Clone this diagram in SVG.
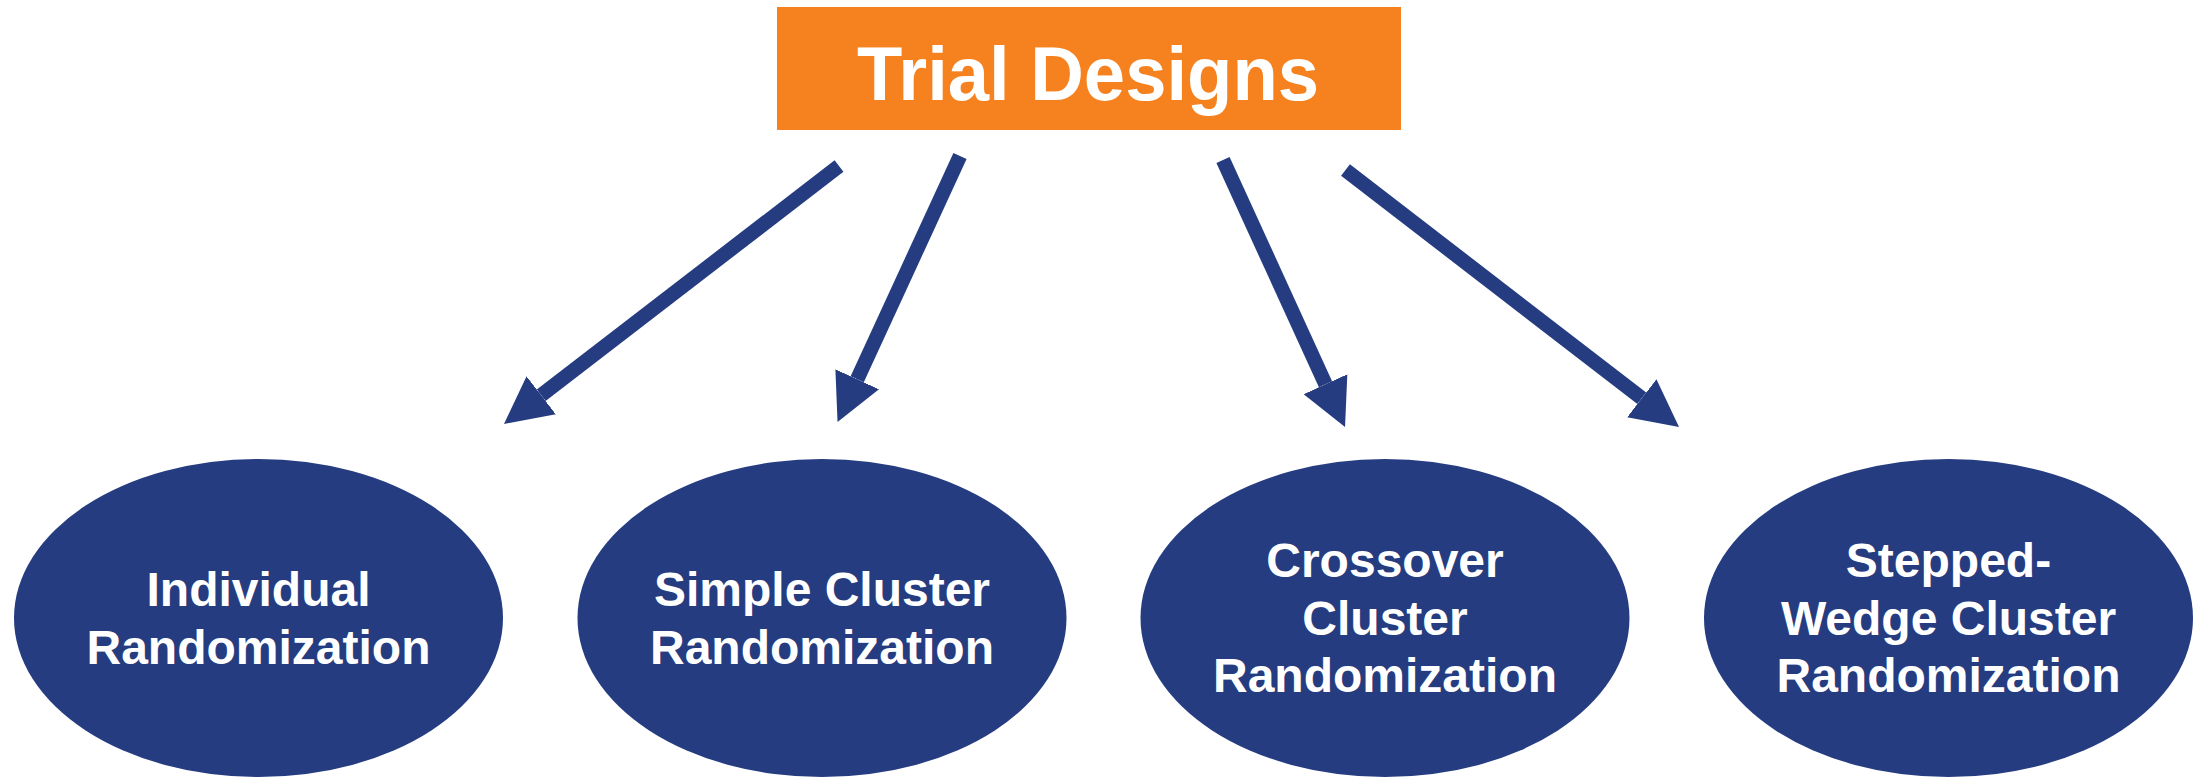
<svg xmlns="http://www.w3.org/2000/svg" width="2208" height="777" viewBox="0 0 2208 777">
  <style>
    .title { font-family: "Liberation Sans", Arial, sans-serif; font-weight: bold; font-size: 76px; fill: #ffffff; text-anchor: middle; }
    .label { font-family: "Liberation Sans", Arial, sans-serif; font-weight: bold; font-size: 48px; fill: #ffffff; text-anchor: middle; }
    .oval { fill: #253C80; }
    .shaft { stroke: #253C80; stroke-width: 14.5; fill: none; }
  </style>
  <defs>
    <marker id="head" markerUnits="userSpaceOnUse" markerWidth="48" markerHeight="50" refX="0" refY="25" orient="auto" viewBox="0 0 48 50">
      <path d="M0,1 L47,25 L0,49 Z" fill="#253C80"/>
    </marker>
  </defs>
  <rect width="2208" height="777" fill="#ffffff"/>

  <!-- root box -->
  <g id="trial-designs">
    <rect x="777" y="7" width="624" height="123" fill="#F5821F"/>
    <text class="title" x="1088" y="100" textLength="462" lengthAdjust="spacingAndGlyphs">Trial Designs</text>
  </g>

  <!-- arrows from root to each design -->
  <g id="connectors">
    <line class="shaft" x1="839" y1="166" x2="541.2" y2="395.3" marker-end="url(#head)"/>
    <line class="shaft" x1="960" y1="156" x2="857.2" y2="379.3" marker-end="url(#head)"/>
    <line class="shaft" x1="1223" y1="160" x2="1325.5" y2="384.2" marker-end="url(#head)"/>
    <line class="shaft" x1="1345.5" y1="170" x2="1641.8" y2="398.3" marker-end="url(#head)"/>
  </g>

  <g id="individual">
    <ellipse class="oval" cx="258.5" cy="618" rx="244.5" ry="159"/>
    <text class="label" x="258.5" y="606">Individual</text>
    <text class="label" x="258.5" y="664">Randomization</text>
  </g>

  <g id="simple-cluster">
    <ellipse class="oval" cx="822" cy="618" rx="244.5" ry="159"/>
    <text class="label" x="822" y="606">Simple Cluster</text>
    <text class="label" x="822" y="664">Randomization</text>
  </g>

  <g id="crossover-cluster">
    <ellipse class="oval" cx="1385" cy="618" rx="244.5" ry="159"/>
    <text class="label" x="1385" y="577">Crossover</text>
    <text class="label" x="1385" y="635">Cluster</text>
    <text class="label" x="1385" y="692">Randomization</text>
  </g>

  <g id="stepped-wedge-cluster">
    <ellipse class="oval" cx="1948.5" cy="618" rx="244.5" ry="159"/>
    <text class="label" x="1948.5" y="577">Stepped-</text>
    <text class="label" x="1948.5" y="635">Wedge Cluster</text>
    <text class="label" x="1948.5" y="692">Randomization</text>
  </g>
</svg>
